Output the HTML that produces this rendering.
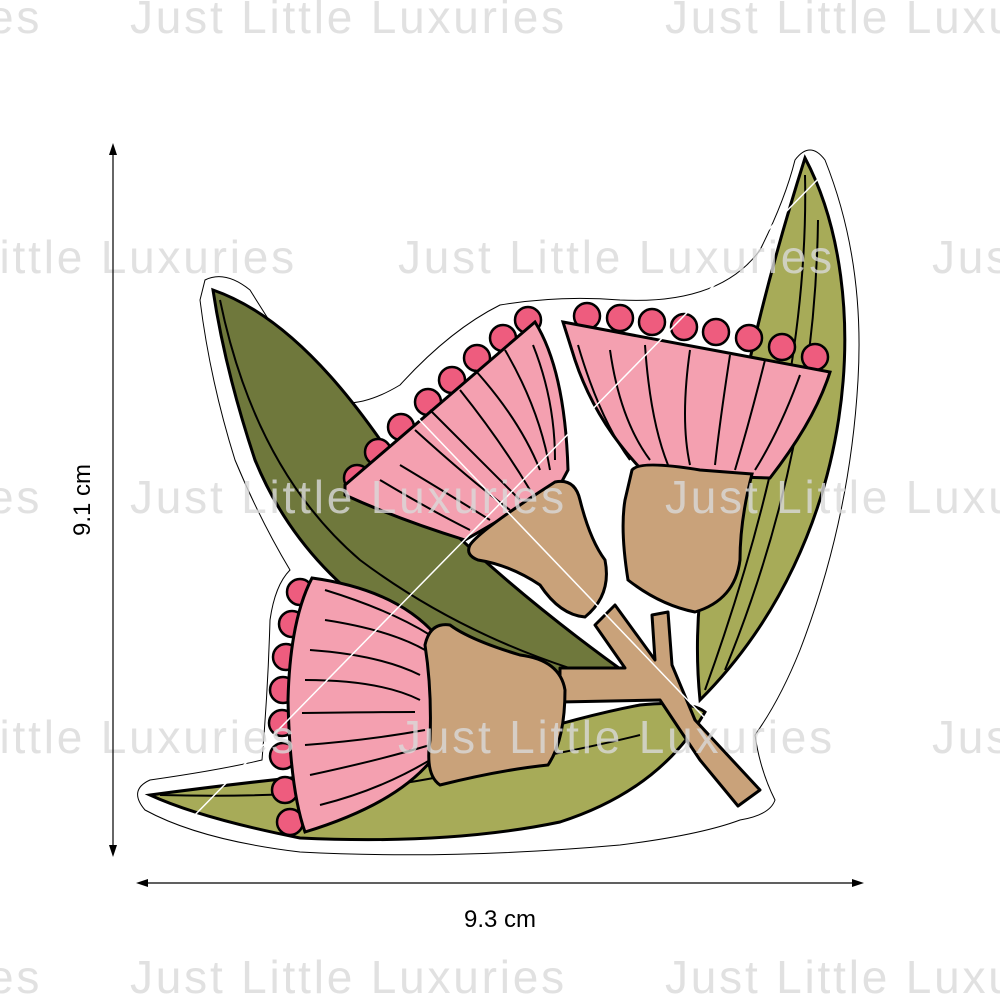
<!DOCTYPE html>
<html><head><meta charset="utf-8"><style>
html,body{margin:0;padding:0;background:#fff;}
svg{display:block;}
.wm{font-family:"Liberation Sans",sans-serif;font-size:46px;fill:#d9d9d9;fill-opacity:0.8;letter-spacing:2.8px;}
</style></head><body>
<svg width="1000" height="1000" viewBox="0 0 1000 1000" xmlns="http://www.w3.org/2000/svg">
<path d="M205,280 Q225,270 250,290 Q300,370 320,395 Q350,415 400,385 Q450,330 500,305 Q560,295 620,300 Q720,305 760,250 Q785,200 795,160 Q810,140 825,160 Q865,260 858,380 Q850,520 800,650 Q780,700 755,735 Q760,770 775,800 Q770,815 740,820 Q700,835 620,845 Q450,860 300,852 Q200,840 145,810 Q128,790 150,780 Q220,770 262,760 Q268,690 270,620 Q275,585 290,570 Q260,520 235,460 Q210,380 200,300 Z" fill="none" stroke="#000" stroke-width="1"/>
<path d="M805,158 C875,290 860,540 700,700 C690,600 710,520 735,430 Q760,300 805,158 Z" fill="#a7ab58" stroke="#000" stroke-width="3"/>
<path d="M805,175 Q810,400 705,690 M818,220 Q815,450 725,670" fill="none" stroke="#000" stroke-width="2"/>
<path d="M213,290 C300,320 370,420 420,500 Q520,600 650,690 Q520,680 410,635 Q300,570 255,460 Q225,370 213,290 Z" fill="#6f783c" stroke="#000" stroke-width="3"/>
<path d="M220,300 Q255,470 360,560 Q480,650 640,688" fill="none" stroke="#000" stroke-width="2"/>
<path d="M150,795 Q300,775 430,765 Q560,720 640,705 Q690,700 705,712 Q660,790 560,822 Q450,845 300,838 Q200,818 150,795 Z" fill="#a7ab58" stroke="#000" stroke-width="3"/>
<path d="M160,795 Q350,800 470,770 Q580,750 640,735" fill="none" stroke="#000" stroke-width="2"/>
<path d="M560,668 L625,668 L595,625 L615,605 L655,660 L652,615 L668,612 L672,665 L695,720 L760,790 L738,806 L700,760 L660,700 L560,702 Z" fill="#c9a27a" stroke="#000" stroke-width="3" stroke-linejoin="round"/>
<g stroke="#000" stroke-width="2.5" fill="#ee5c7e">
<circle cx="357" cy="478" r="13"/><circle cx="378" cy="452" r="13"/><circle cx="401" cy="427" r="13"/><circle cx="428" cy="402" r="13"/><circle cx="452" cy="380" r="13"/><circle cx="477" cy="358" r="13"/><circle cx="503" cy="338" r="13"/><circle cx="528" cy="320" r="13"/>
</g>
<path d="M345,485 L535,322 Q565,370 568,470 L560,485 L465,540 Q400,520 345,495 Z" fill="#f4a0b0" stroke="#000" stroke-width="3"/>
<path d="M380,480 Q430,510 470,530 M400,465 Q450,495 490,520 M415,430 Q470,480 510,510 M430,410 Q480,460 520,500 M460,390 Q500,440 530,490 M475,370 Q520,420 540,470 M505,350 Q540,410 550,470 M533,345 Q555,400 555,460" fill="none" stroke="#000" stroke-width="2"/>
<path d="M470,545 Q480,530 555,482 Q575,478 580,500 Q590,540 605,560 Q612,595 585,617 Q560,615 540,585 Q510,565 478,560 Q465,555 470,545 Z" fill="#c9a27a" stroke="#000" stroke-width="3"/>
<g stroke="#000" stroke-width="2.5" fill="#ee5c7e">
<circle cx="587" cy="316" r="13"/><circle cx="620" cy="318" r="13"/><circle cx="652" cy="322" r="13"/><circle cx="684" cy="327" r="13"/><circle cx="716" cy="332" r="13"/><circle cx="749" cy="338" r="13"/><circle cx="782" cy="347" r="13"/><circle cx="815" cy="357" r="13"/>
</g>
<path d="M563,322 L830,372 Q815,420 770,478 L700,476 L640,468 Q595,420 575,360 Z" fill="#f4a0b0" stroke="#000" stroke-width="3"/>
<path d="M578,345 Q600,420 630,460 M610,350 Q620,420 650,460 M645,345 Q650,420 668,465 M690,350 Q680,420 690,465 M730,355 Q720,420 715,465 M765,360 Q750,420 735,470 M800,375 Q780,430 755,470" fill="none" stroke="#000" stroke-width="2"/>
<path d="M632,470 Q640,460 700,470 L752,474 Q740,520 740,560 Q735,600 695,612 Q660,605 628,580 Q620,530 625,500 Z" fill="#c9a27a" stroke="#000" stroke-width="3"/>
<g stroke="#000" stroke-width="2.5" fill="#ee5c7e">
<circle cx="300" cy="592" r="13"/><circle cx="292" cy="624" r="13"/><circle cx="286" cy="657" r="13"/><circle cx="283" cy="690" r="13"/><circle cx="282" cy="723" r="13"/><circle cx="283" cy="756" r="13"/><circle cx="285" cy="790" r="13"/><circle cx="290" cy="822" r="13"/>
</g>
<path d="M312,578 Q400,590 440,640 L442,745 Q410,800 305,832 Q290,790 288,700 Q290,620 312,578 Z" fill="#f4a0b0" stroke="#000" stroke-width="3"/>
<path d="M325,590 Q390,610 430,635 M325,620 Q390,630 425,650 M310,650 Q380,655 420,675 M305,680 Q380,680 420,700 M302,713 Q370,712 415,712 M305,745 Q370,740 425,730 M310,775 Q380,760 430,745 M320,805 Q380,790 430,760" fill="none" stroke="#000" stroke-width="2"/>
<path d="M425,645 Q430,622 450,625 Q470,640 520,655 Q560,660 565,690 Q565,740 548,765 Q500,770 440,785 Q425,775 430,740 Q432,690 425,645 Z" fill="#c9a27a" stroke="#000" stroke-width="3"/>
<line x1="190" y1="820" x2="822" y2="175" stroke="#fff" stroke-width="1.5"/>
<line x1="410" y1="410" x2="745" y2="760" stroke="#fff" stroke-width="1.5"/>
<g class="wm">
<text x="-12" y="33">es</text><text x="130" y="33">Just Little Luxuries</text><text x="665" y="33">Just Little Luxuries</text>
<text x="-140" y="273">Just Little Luxuries</text><text x="398" y="273">Just Little Luxuries</text><text x="932" y="273">Just Little Luxuries</text>
<text x="-12" y="513">es</text><text x="130" y="513">Just Little Luxuries</text><text x="665" y="513">Just Little Luxuries</text>
<text x="-140" y="753">Just Little Luxuries</text><text x="398" y="753">Just Little Luxuries</text><text x="932" y="753">Just Little Luxuries</text>
<text x="-12" y="993">es</text><text x="130" y="993">Just Little Luxuries</text><text x="665" y="993">Just Little Luxuries</text>
</g>
<g stroke="#000" stroke-width="1.2" fill="#000">
<line x1="113" y1="150" x2="113" y2="850"/>
<path d="M113,143 L109,155 L117,155 Z" stroke="none"/>
<path d="M113,857 L109,845 L117,845 Z" stroke="none"/>
<line x1="143" y1="883" x2="857" y2="883"/>
<path d="M136,883 L148,879 L148,887 Z" stroke="none"/>
<path d="M864,883 L852,879 L852,887 Z" stroke="none"/>
</g>
<text x="500" y="927" text-anchor="middle" font-family="Liberation Sans,sans-serif" font-size="24">9.3 cm</text>
<text transform="translate(90,500) rotate(-90)" text-anchor="middle" font-family="Liberation Sans,sans-serif" font-size="24">9.1 cm</text>
</svg>
</body></html>
